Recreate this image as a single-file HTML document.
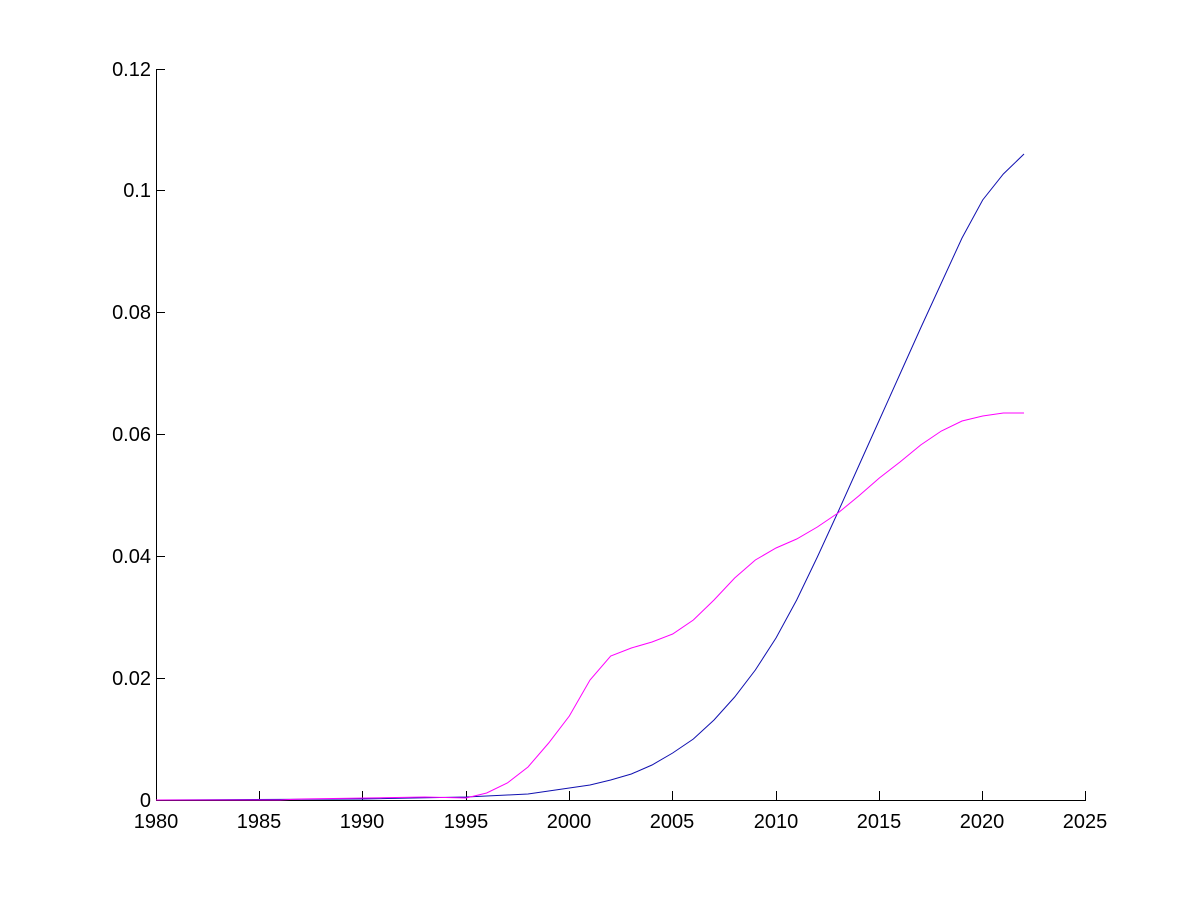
<!DOCTYPE html>
<html><head><style>html,body{margin:0;padding:0;background:#fff;}svg{display:block}</style></head>
<body>
<svg width="1200" height="900" xmlns="http://www.w3.org/2000/svg" font-family="Liberation Sans, sans-serif" font-size="20">
<rect width="1200" height="900" fill="#fff"/>
<g stroke="#000" stroke-width="1" fill="none">
<line x1="156.5" y1="69" x2="156.5" y2="800.5"/>
<line x1="156" y1="800.5" x2="1086" y2="800.5"/>
<line x1="156" y1="800.5" x2="165" y2="800.5"/>
<line x1="156" y1="678.5" x2="165" y2="678.5"/>
<line x1="156" y1="556.5" x2="165" y2="556.5"/>
<line x1="156" y1="434.5" x2="165" y2="434.5"/>
<line x1="156" y1="312.5" x2="165" y2="312.5"/>
<line x1="156" y1="190.5" x2="165" y2="190.5"/>
<line x1="156" y1="69.5" x2="165" y2="69.5"/>
<line x1="156.5" y1="800" x2="156.5" y2="791"/>
<line x1="259.5" y1="800" x2="259.5" y2="791"/>
<line x1="362.5" y1="800" x2="362.5" y2="791"/>
<line x1="466.5" y1="800" x2="466.5" y2="791"/>
<line x1="569.5" y1="800" x2="569.5" y2="791"/>
<line x1="672.5" y1="800" x2="672.5" y2="791"/>
<line x1="776.5" y1="800" x2="776.5" y2="791"/>
<line x1="879.5" y1="800" x2="879.5" y2="791"/>
<line x1="982.5" y1="800" x2="982.5" y2="791"/>
<line x1="1085.5" y1="800" x2="1085.5" y2="791"/>
</g>
<g text-anchor="end" fill="#000">
<text x="151" y="807">0</text>
<text x="151" y="685">0.02</text>
<text x="151" y="563">0.04</text>
<text x="151" y="441">0.06</text>
<text x="151" y="319">0.08</text>
<text x="151" y="197">0.1</text>
<text x="151" y="76">0.12</text>
</g>
<g text-anchor="middle" fill="#000">
<text x="156" y="828">1980</text>
<text x="259" y="828">1985</text>
<text x="362" y="828">1990</text>
<text x="466" y="828">1995</text>
<text x="569" y="828">2000</text>
<text x="672" y="828">2005</text>
<text x="776" y="828">2010</text>
<text x="879" y="828">2015</text>
<text x="982" y="828">2020</text>
<text x="1085" y="828">2025</text>
</g>
<g transform="translate(156,0) scale(20.667,1)" fill="none">
<polyline vector-effect="non-scaling-stroke" stroke="#1010b0" stroke-width="1" points="0,800 10,799 15,797 17,795 18,794 19,791 20,788 21,785 22,780 23,774 24,765 25,753 26,739 27,720 28,697 29,670 30,638 31,600 32,557 33,512 34,466 35,420 36,374 37,328 38,283 39,238 40,200 41,174 42,154"/>
<polyline vector-effect="non-scaling-stroke" stroke="#ff00ff" stroke-width="1" points="0,800 6,800 7,799 13,797 15,798 16,793 17,783 18,767 19,743 20,716 21,680 22,656 23,648 24,642 25,634 26,620 27,600 28,578 29,560 30,548 31,539 32,527 33,513 34,496 35,478 36,462 37,445 38,431 39,421 40,416 41,413 42,413"/>
</g>
</svg>
</body></html>
